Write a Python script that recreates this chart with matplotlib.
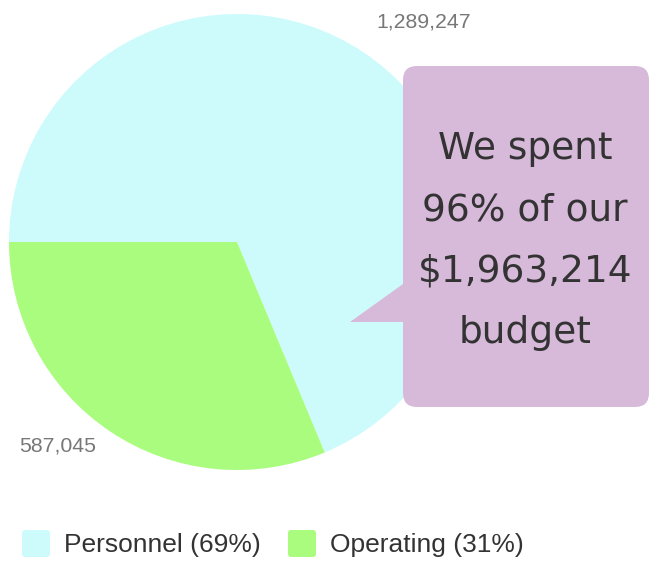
import matplotlib.pyplot as plt
from matplotlib.patches import FancyBboxPatch, Polygon

# data
labels = ["Personnel", "Operating"]
values = [1289247, 587045]
colors = ["#cdfbfb", "#aafc7e"]
budget = 1963214

W, H = 650, 561
fig = plt.figure(figsize=(W / 100, H / 100), dpi=100)
ax = fig.add_axes([0, 0, 1, 1])

# pie (pixel coords, y up)
cx, cy, r = 237, H - 242, 228
ax.pie(values, colors=colors, startangle=180, counterclock=False,
       center=(cx, cy), radius=r, wedgeprops=dict(linewidth=0), frame=True)
ax.set_xlim(0, W)
ax.set_ylim(0, H)
ax.set_aspect("equal")
ax.axis("off")

# value labels
ax.text(424, H - 22, f"{values[0]:,}", fontsize=15.3, color="#777777",
        family="Liberation Sans", ha="center", va="center")
ax.text(58, H - 446, f"{values[1]:,}", fontsize=15.3, color="#777777",
        family="Liberation Sans", ha="center", va="center")

# callout
box_col = "#d7b9da"
box = FancyBboxPatch((403, H - 407), 246, 341,
                     boxstyle="round,pad=0,rounding_size=14",
                     facecolor=box_col, edgecolor="none", zorder=5)
ax.add_patch(box)
ax.add_patch(Polygon([(410, H - 279), (350, H - 322), (410, H - 322)],
                     closed=True, facecolor=box_col, edgecolor="none", zorder=5))
pct = round(sum(values) / budget * 100)
msg = f"We spent\n{pct}% of our\n${budget:,}\nbudget"
ax.text(525, H - 241, msg, fontsize=27, color="#333333", family="DejaVu Sans",
        ha="center", va="center", linespacing=1.9, zorder=6)

# legend
total = sum(values)
lx = [22, 288]
for i, (lab, v, c) in enumerate(zip(labels, values, colors)):
    sq = FancyBboxPatch((lx[i], H - 557), 28, 27,
                        boxstyle="round,pad=0,rounding_size=3",
                        facecolor=c, edgecolor="none")
    ax.add_patch(sq)
    ax.text(lx[i] + 42, H - 545, f"{lab} ({round(v / total * 100)}%)",
            fontsize=19, color="#333333", family="Liberation Sans",
            ha="left", va="center")

fig.savefig("out.png", dpi=100)
